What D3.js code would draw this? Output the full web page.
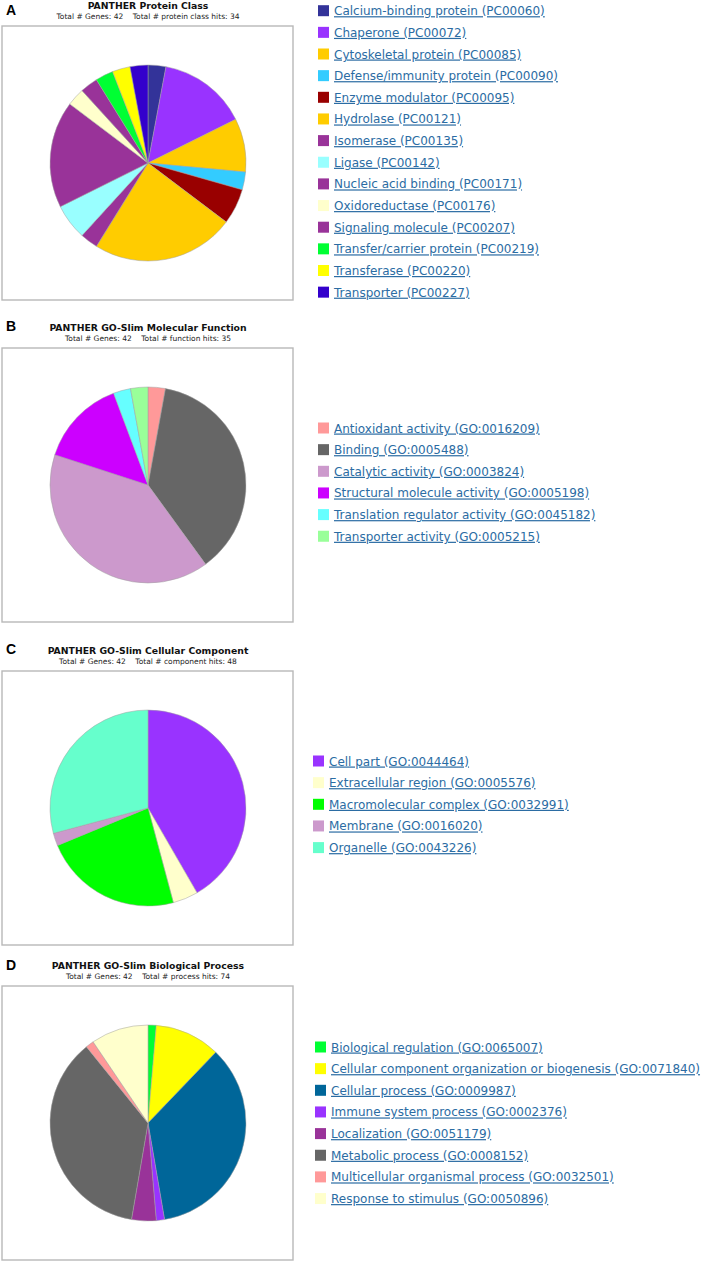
<!DOCTYPE html>
<html>
<head>
<meta charset="utf-8">
<script src="https://cdn.jsdelivr.net/npm/d3@7/dist/d3.min.js"></script>
<style>
  html, body { margin: 0; padding: 0; background: #fff; }
  svg { display: block; }
  .leg { font-family: "DejaVu Sans", Verdana, sans-serif; font-size: 12px; fill: #2b6ca3; text-decoration: underline; }
  .ttl { font-family: "DejaVu Sans", sans-serif; font-weight: bold; font-size: 9.3px; fill: #111; }
  .sub { font-family: "DejaVu Sans", sans-serif; font-size: 7.5px; fill: #222; white-space: pre; }
  .lbl { font-family: "Liberation Sans", Arial, sans-serif; font-weight: bold; font-size: 14px; fill: #000; }
</style>
</head>
<body>
<svg id="chart" width="709" height="1262"></svg>
<script>
// ---------- Panel A: PANTHER Protein Class ----------
const proteinClassCategories = [
  "Calcium-binding protein (PC00060)", "Chaperone (PC00072)", "Cytoskeletal protein (PC00085)",
  "Defense/immunity protein (PC00090)", "Enzyme modulator (PC00095)", "Hydrolase (PC00121)",
  "Isomerase (PC00135)", "Ligase (PC00142)", "Nucleic acid binding (PC00171)",
  "Oxidoreductase (PC00176)", "Signaling molecule (PC00207)", "Transfer/carrier protein (PC00219)",
  "Transferase (PC00220)", "Transporter (PC00227)"
];
const proteinClassValues = [1, 5, 3, 1, 2, 8, 1, 2, 6, 1, 1, 1, 1, 1];
const proteinClassColors = ["#333399", "#9933ff", "#ffcc00", "#33ccff", "#990000", "#ffcc00", "#993399",
  "#99ffff", "#993399", "#ffffcc", "#993399", "#00ff33", "#ffff00", "#3300cc"];

// ---------- Panel B: Molecular Function ----------
const molFunctionCategories = [
  "Antioxidant activity (GO:0016209)", "Binding (GO:0005488)", "Catalytic activity (GO:0003824)",
  "Structural molecule activity (GO:0005198)", "Translation regulator activity (GO:0045182)",
  "Transporter activity (GO:0005215)"
];
const molFunctionValues = [1, 13, 14, 5, 1, 1];
const molFunctionColors = ["#ff9999", "#666666", "#cc99cc", "#cc00ff", "#66ffff", "#99ff99"];

// ---------- Panel C: Cellular Component ----------
const cellCompCategories = [
  "Cell part (GO:0044464)", "Extracellular region (GO:0005576)", "Macromolecular complex (GO:0032991)",
  "Membrane (GO:0016020)", "Organelle (GO:0043226)"
];
const cellCompValues = [20, 2, 11, 1, 14];
const cellCompColors = ["#9933ff", "#ffffcc", "#00ff00", "#cc99cc", "#66ffcc"];

// ---------- Panel D: Biological Process ----------
const bioProcessCategories = [
  "Biological regulation (GO:0065007)", "Cellular component organization or biogenesis (GO:0071840)",
  "Cellular process (GO:0009987)", "Immune system process (GO:0002376)", "Localization (GO:0051179)",
  "Metabolic process (GO:0008152)", "Multicellular organismal process (GO:0032501)",
  "Response to stimulus (GO:0050896)"
];
const bioProcessValues = [1, 8, 26, 1, 3, 27, 1, 7];
const bioProcessColors = ["#00ff33", "#ffff00", "#006699", "#9933ff", "#993399", "#666666", "#ff9999", "#ffffcc"];

const panelLetters = ["A", "B", "C", "D"];
const panelTitles = ["PANTHER Protein Class", "PANTHER GO-Slim Molecular Function",
  "PANTHER GO-Slim Cellular Component", "PANTHER GO-Slim Biological Process"];
const panelSubtitles = [
  "Total # Genes: 42    Total # protein class hits: 34",
  "Total # Genes: 42    Total # function hits: 35",
  "Total # Genes: 42    Total # component hits: 48",
  "Total # Genes: 42    Total # process hits: 74"
];

const datasets = [
  { cats: proteinClassCategories, vals: proteinClassValues, cols: proteinClassColors },
  { cats: molFunctionCategories, vals: molFunctionValues, cols: molFunctionColors },
  { cats: cellCompCategories, vals: cellCompValues, cols: cellCompColors },
  { cats: bioProcessCategories, vals: bioProcessValues, cols: bioProcessColors }
];

// layout (positions only)
const layout = [
  { boxTop: 26,  letterY: 15,  legY: 10.7, swX: 318 },
  { boxTop: 348, letterY: 331, legY: 428,  swX: 318 },
  { boxTop: 671, letterY: 654, legY: 761,  swX: 313 },
  { boxTop: 986, letterY: 970, legY: 1047, swX: 315 }
];
const boxX = 2, boxW = 291, boxH = 274, radius = 98, rowH = 21.65, sw = 11;

const svg = d3.select("#chart");

datasets.forEach((ds, i) => {
  const L = layout[i];
  const g = svg.append("g");
  const cx = boxX + boxW / 2 + 0.5;
  const cy = L.boxTop + boxH / 2;

  g.append("text").attr("class", "lbl").attr("x", 6).attr("y", L.letterY).text(panelLetters[i]);
  g.append("text").attr("class", "ttl").attr("x", cx).attr("y", L.boxTop - 17.5)
    .attr("text-anchor", "middle").text(panelTitles[i]);
  g.append("text").attr("class", "sub").attr("x", cx).attr("y", L.boxTop - 7.5)
    .attr("text-anchor", "middle").attr("xml:space", "preserve").text(panelSubtitles[i]);

  g.append("rect").attr("x", boxX).attr("y", L.boxTop).attr("width", boxW).attr("height", boxH)
    .attr("fill", "#fff").attr("stroke", "#b8b8b8").attr("stroke-width", 1.4);

  const color = d3.scaleOrdinal().domain(ds.cats).range(ds.cols);
  const pie = d3.pie().sort(null).value(d => d.v).startAngle(0).endAngle(2 * Math.PI);
  const arc = d3.arc().innerRadius(0).outerRadius(radius);
  const data = ds.cats.map((c, k) => ({ c, v: ds.vals[k] }));

  g.append("g").attr("transform", `translate(${cx},${cy})`)
    .selectAll("path").data(pie(data)).join("path")
    .attr("d", arc)
    .attr("fill", d => color(d.data.c))
    .attr("stroke", "#a0a0a0").attr("stroke-width", 0.5);

  const y = d3.scaleLinear().domain([0, 1]).range([L.legY, L.legY + rowH]);
  const leg = g.append("g").selectAll("g").data(ds.cats).join("g")
    .attr("transform", (d, k) => `translate(${L.swX},${y(k)})`);
  leg.append("rect").attr("x", 0).attr("y", -sw / 2).attr("width", sw).attr("height", sw)
    .attr("fill", d => color(d));
  leg.append("text").attr("class", "leg").attr("x", 16).attr("y", 4.5).text(d => d);
});
</script>
</body>
</html>
